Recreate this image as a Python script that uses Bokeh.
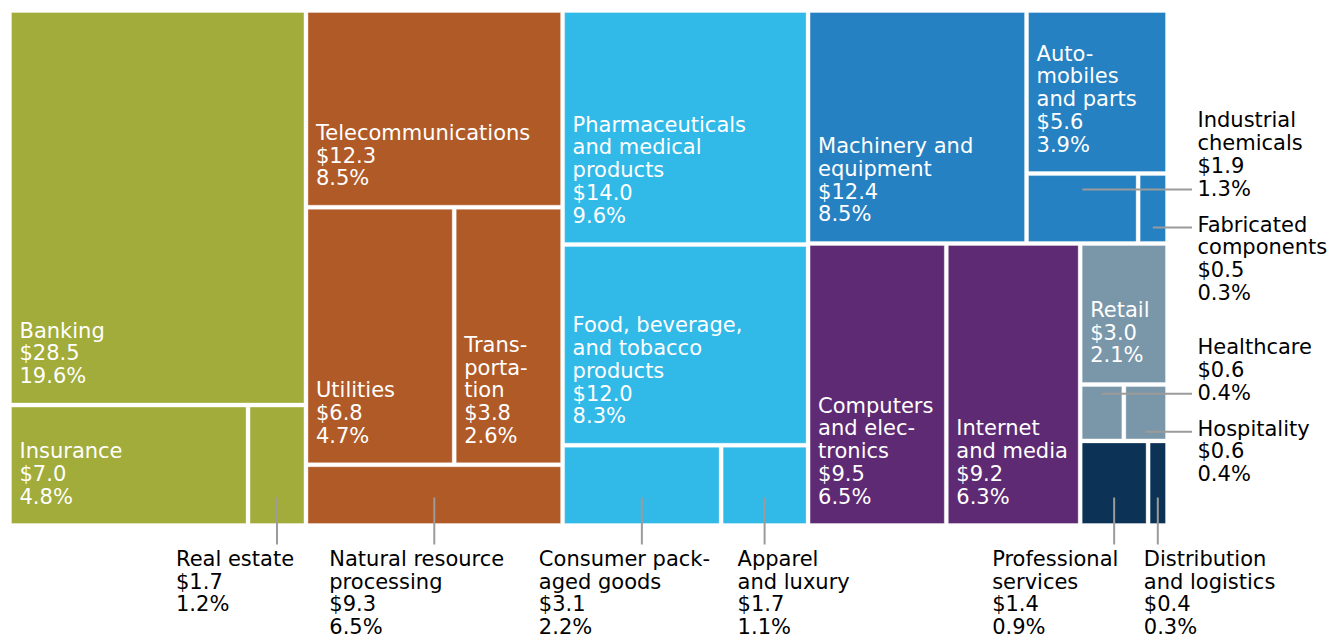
from bokeh.plotting import figure
from bokeh.models import Range1d, ColumnDataSource
from bokeh.core.properties import value
from bokeh.embed import file_html
from bokeh.resources import INLINE

# ---------------- data ----------------
categories = [
    "Banking", "Insurance", "Real estate",
    "Telecommunications", "Utilities", "Transportation", "Natural resource processing",
    "Pharmaceuticals and medical products", "Food, beverage, and tobacco products",
    "Consumer packaged goods", "Apparel and luxury",
    "Machinery and equipment", "Automobiles and parts", "Industrial chemicals",
    "Fabricated components",
    "Computers and electronics", "Internet and media",
    "Retail", "Healthcare", "Hospitality",
    "Professional services", "Distribution and logistics",
]
label_lines = [
    "Banking", "Insurance", "Real estate",
    "Telecommunications", "Utilities", "Trans-\nporta-\ntion", "Natural resource\nprocessing",
    "Pharmaceuticals\nand medical\nproducts", "Food, beverage,\nand tobacco\nproducts",
    "Consumer pack-\naged goods", "Apparel\nand luxury",
    "Machinery and\nequipment", "Auto-\nmobiles\nand parts", "Industrial\nchemicals",
    "Fabricated\ncomponents",
    "Computers\nand elec-\ntronics", "Internet\nand media",
    "Retail", "Healthcare", "Hospitality",
    "Professional\nservices", "Distribution\nand logistics",
]
values = [28.5, 7.0, 1.7, 12.3, 6.8, 3.8, 9.3, 14.0, 12.0, 3.1, 1.7,
          12.4, 5.6, 1.9, 0.5, 9.5, 9.2, 3.0, 0.6, 0.6, 1.4, 0.4]
shares = [19.6, 4.8, 1.2, 8.5, 4.7, 2.6, 6.5, 9.6, 8.3, 2.2, 1.1,
          8.5, 3.9, 1.3, 0.3, 6.5, 6.3, 2.1, 0.4, 0.4, 0.9, 0.3]
# tile areas as drawn in the picture
tile_sizes = [28.5, 7.0, 1.7, 12.3, 9.3, 6.8, 3.8, 14.0, 12.0, 3.1, 1.7,
              12.4, 5.6, 1.9, 0.5, 9.5, 9.2, 3.0, 0.6, 0.6, 1.4, 0.4]
sector_of = [0, 0, 0, 1, 1, 1, 1, 2, 2, 2, 2, 3, 3, 3, 3, 4, 4, 5, 5, 5, 6, 6]
sector_colors = ["#A1AC3A", "#B05A27", "#31B9E8", "#2581C1",
                 "#5E2A73", "#7A97A9", "#0C3355"]

# nesting of the treemap (h = side by side, v = stacked)
TREE = ("h", [
    ("v", [0, ("h", [1, 2])]),
    ("v", [3, ("h", [4, 5]), 6]),
    ("v", [7, 8, ("h", [9, 10])]),
    ("v", [("h", [11, ("v", [12, ("h", [13, 14])])]),
           ("h", [15, 16, ("v", [17, ("h", [18, 19]), ("h", [20, 21])])])]),
])

# callouts: bottom (text x offset from tile centre), right (above/below)
bottom_callouts = {2: -101, 6: -105, 9: -103, 10: -27, 20: -122, 21: -14}
right_callouts = {13: "above", 14: "below", 18: "above", 19: "below"}

# ---------------- layout ----------------
W, H = 1330, 640
X0, X1, Y0, Y1 = 9.0, 1167.0, 10.0, 525.0
GAP = 2.0
LH = 22.7
TSHIFT = -8.0   # renderer places glyphs slightly below the nominal baseline
FONT = "DejaVu Sans"
FSIZE = "21px"


def node_size(n):
    if isinstance(n, int):
        return tile_sizes[n]
    return sum(node_size(c) for c in n[1])


rects = {}


def layout(n, x0, y0, x1, y1):
    if isinstance(n, int):
        rects[n] = (x0, y0, x1, y1)
        return
    d, kids = n
    tot = node_size(n)
    pos = x0 if d == "h" else y0
    span = (x1 - x0) if d == "h" else (y1 - y0)
    for k in kids:
        s = span * node_size(k) / tot
        if d == "h":
            layout(k, pos, y0, pos + s, y1)
        else:
            layout(k, x0, pos, x1, pos + s)
        pos += s


layout(TREE, X0, Y0, X1, Y1)

idx = list(range(len(categories)))
tiles = ColumnDataSource(dict(
    left=[rects[i][0] + GAP for i in idx],
    right=[rects[i][2] - GAP for i in idx],
    top=[rects[i][1] + GAP for i in idx],
    bottom=[rects[i][3] - GAP for i in idx],
    color=[sector_colors[sector_of[i]] for i in idx],
    name=categories,
))

p = figure(width=W, height=H, x_range=Range1d(0, W), y_range=Range1d(H, 0),
           output_backend="svg", toolbar_location=None, min_border=0,
           x_axis_location=None, y_axis_location=None, outline_line_color=None,
           background_fill_color="white", border_fill_color="white")
p.grid.grid_line_color = None

p.quad(left="left", right="right", top="top", bottom="bottom", source=tiles,
       fill_color="color", line_color="white", line_alpha=0.35, line_width=1)

tx, ty, tt, tc = [], [], [], []
sx0, sy0, sx1, sy1 = [], [], [], []


def lines_of(i):
    return label_lines[i].split("\n") + ["$%.1f" % values[i], "%.1f%%" % shares[i]]


for i in idx:
    l, t, r, b = rects[i][0] + GAP, rects[i][1] + GAP, rects[i][2] - GAP, rects[i][3] - GAP
    cx, cy = (l + r) / 2, (t + b) / 2
    ls = lines_of(i)
    n = len(ls)
    if i in bottom_callouts:
        sx0.append(cx); sy0.append(b - 26); sx1.append(cx); sy1.append(b + 21)
        for k, s in enumerate(ls):
            tx.append(cx + bottom_callouts[i]); ty.append(b + 43.5 + k * 22.5 + TSHIFT)
            tt.append(s); tc.append("#000000")
    elif i in right_callouts:
        ly = cy - 19 if right_callouts[i] == "above" else cy + 19
        sx0.append(cx); sy0.append(ly); sx1.append(X1 + 24.5); sy1.append(ly)
        if right_callouts[i] == "above":
            base = ly + 7 - (n - 1) * LH
        else:
            base = ly + 5
        for k, s in enumerate(ls):
            tx.append(X1 + 30); ty.append(base + k * LH + TSHIFT)
            tt.append(s); tc.append("#000000")
    else:
        last = b - 19
        for k, s in enumerate(ls):
            tx.append(l + 8); ty.append(last - (n - 1 - k) * LH + TSHIFT)
            tt.append(s); tc.append("#FFFFFF")

p.segment(x0=sx0, y0=sy0, x1=sx1, y1=sy1, line_color="#9B9B9B", line_width=2)
p.text(x=tx, y=ty, text=tt, text_color=tc, text_font=value(FONT),
       text_font_size=value(FSIZE), text_baseline="alphabetic", text_align="left")

open("out.html", "w").write(file_html(p, INLINE))
